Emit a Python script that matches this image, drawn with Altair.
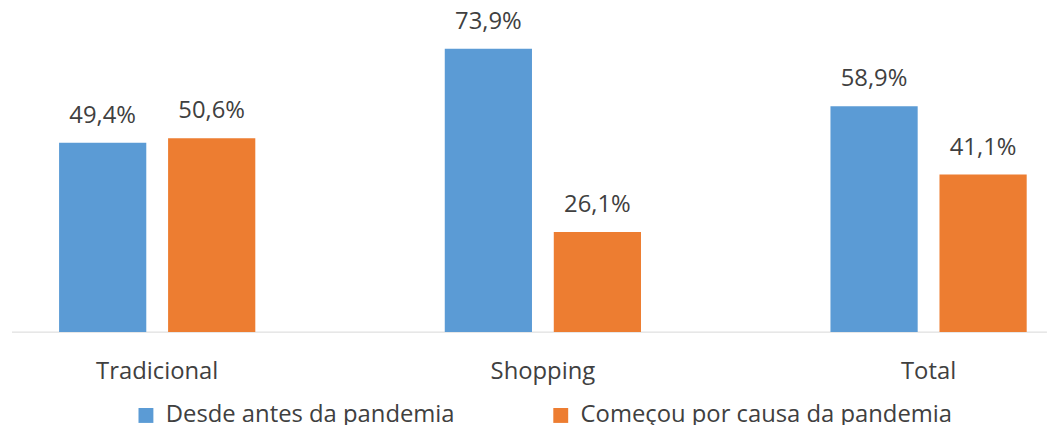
import altair as alt
import pandas as pd

categories = ["Tradicional", "Shopping", "Total"]
series = ["Desde antes da pandemia", "Começou por causa da pandemia"]
desde_antes = [49.4, 73.9, 58.9]
comecou = [50.6, 26.1, 41.1]
colors = ["#5B9BD5", "#ED7D31"]

rows = []
for i, c in enumerate(categories):
    for s, vals in zip(series, [desde_antes, comecou]):
        v = vals[i]
        rows.append({"categoria": c, "serie": s, "valor": v,
                     "rotulo": f"{v:.1f}%".replace(".", ",")})
df = pd.DataFrame(rows)

FONT = "Open Sans"
TXT = "#404040"
FS = 24
W = 1043
H = 309

base = alt.Chart(df).encode(
    x=alt.X("categoria:N", sort=categories,
            scale=alt.Scale(range=[-48, 1118], paddingInner=0, paddingOuter=0),
            axis=alt.Axis(title=None, domain=False, ticks=False, labelAngle=0,
                          labelFontSize=FS, labelFont=FONT, labelColor=TXT,
                          labelPadding=47, labelBaseline="alphabetic")),
    xOffset=alt.XOffset("serie:N", sort=series,
                        scale=alt.Scale(paddingInner=0.2, paddingOuter=0.869)),
    y=alt.Y("valor:Q", scale=alt.Scale(domain=[0, 80]), axis=None),
)

bars = base.mark_bar().encode(
    color=alt.Color("serie:N", sort=series,
                    scale=alt.Scale(domain=series, range=colors),
                    legend=alt.Legend(title=None, orient="none", direction="horizontal",
                                      legendX=123, legendY=381,
                                      symbolType="square", symbolSize=225,
                                      symbolStrokeWidth=0, symbolOpacity=1,
                                      labelFontSize=FS, labelFont=FONT,
                                      labelColor=TXT, labelOffset=8,
                                      columnPadding=94, labelLimit=600))
)

text = base.mark_text(dy=-20, baseline="alphabetic", fontSize=FS,
                      font=FONT, color=TXT).encode(text="rotulo:N")

rule = alt.Chart(pd.DataFrame({"a": [0]})).mark_rule(
    color="#D9D9D9", strokeWidth=1
).encode(x=alt.value(0), x2=alt.value(W), y=alt.value(H))

chart = alt.layer(rule, bars, text).properties(
    width=W, height=H,
    autosize=alt.AutoSizeParams(type="none"),
    padding={"left": 4, "top": 16, "right": 0, "bottom": 92},
).configure_view(stroke=None)

chart.save("out.html", embed_options={"renderer": "svg", "actions": False})
